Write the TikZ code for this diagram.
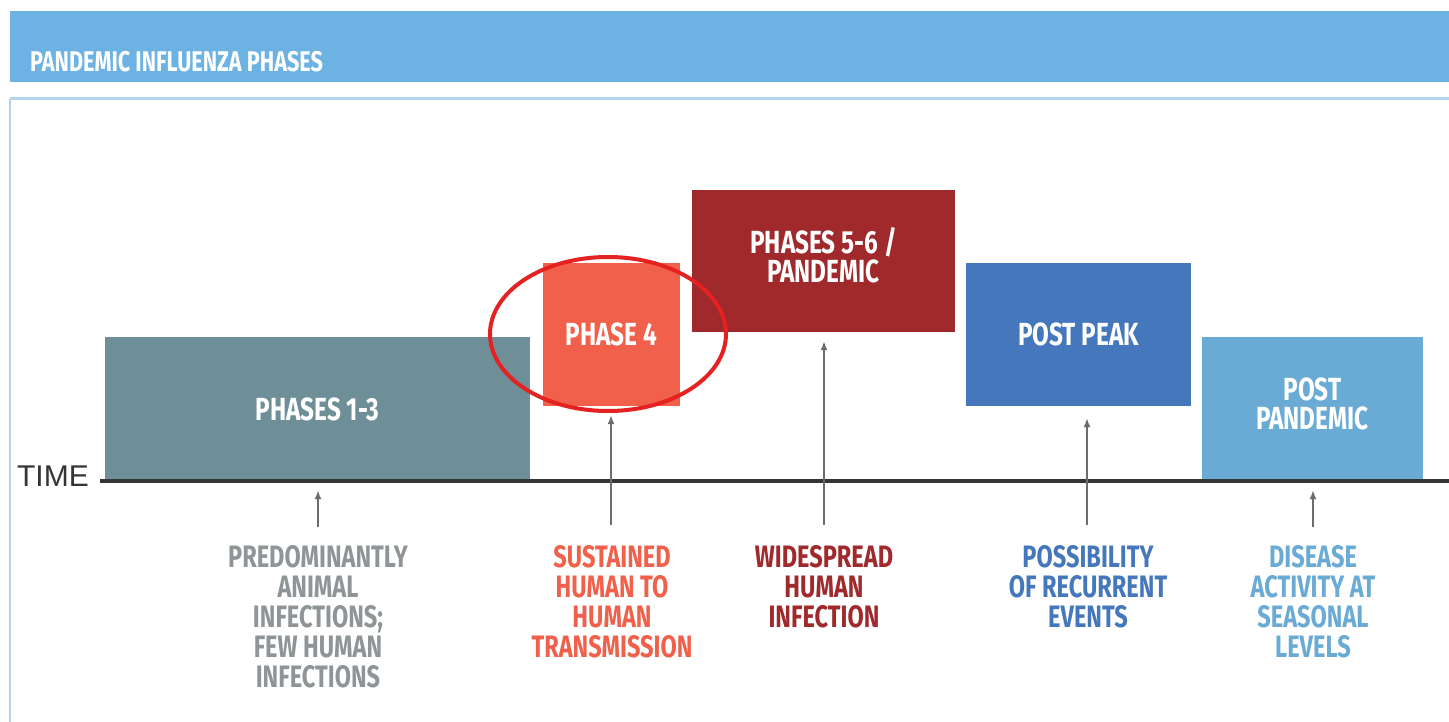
\documentclass[tikz,border=0pt]{standalone}
\usepackage{fontspec}
\setmainfont{Liberation Sans}
\newfontfamily\cond{Fira Sans}[FakeStretch=0.76]
\usetikzlibrary{shapes.geometric,arrows.meta}
\definecolor{titlebar}{HTML}{6CB2E2}
\definecolor{frameline}{HTML}{B3D3EE}
\definecolor{cPhA}{HTML}{6E8F98}
\definecolor{cPhB}{HTML}{F0604A}
\definecolor{cPhC}{HTML}{A0292B}
\definecolor{cPhD}{HTML}{4477BC}
\definecolor{cPhE}{HTML}{6AABD6}
\definecolor{cLabA}{HTML}{8F9497}
\definecolor{timeline}{HTML}{333537}
\definecolor{arrowgray}{HTML}{6A6D70}
\definecolor{ringred}{HTML}{E42222}
\tikzset{
  phasebox/.style={inner sep=0, align=center, text=white,
    font=\cond\bfseries\fontsize{32}{29}\selectfont},
  phaselabel/.style={inner sep=0, align=center, anchor=north,
    font=\cond\bfseries\fontsize{31}{30}\selectfont},
  uparrow/.style={draw=arrowgray, line width=1.6, -{Latex[length=9,width=7]}, shorten >=9},
}
\begin{document}
\begin{tikzpicture}[x=1pt,y=-1pt]
\useasboundingbox (0,0) rectangle (1449,722);
\fill[white] (0,0) rectangle (1449,722);
% title bar
\fill[titlebar] (10,11) rectangle (1449,82);
\node[anchor=base west, inner sep=0, text=white, font=\cond\bfseries\fontsize{28.5}{28}\selectfont] (title) at (30,72) {PANDEMIC INFLUENZA PHASES};
% frame
\draw[frameline, line width=3] (10,99) -- (1449,99);
\draw[frameline, line width=1.5] (10,99) -- (10,722);
% boxes
\node[phasebox, fill=cPhA, minimum width=425, minimum height=144] (b1) at (317.5,409) {PHASES 1-3};
\node[phasebox, fill=cPhB, minimum width=137, minimum height=143] (b2) at (611.5,334.5) {PHASE 4};
\node[phasebox, fill=cPhC, minimum width=263, minimum height=142, text depth=12] (b3) at (823.5,261) {PHASES 5-6 /\\PANDEMIC};
\node[phasebox, fill=cPhD, minimum width=225, minimum height=143] (b4) at (1078.5,334.5) {POST PEAK};
\node[phasebox, fill=cPhE, minimum width=221, minimum height=144, text depth=10] (b5) at (1312.5,409) {POST\\PANDEMIC};
% timeline
\coordinate (t0) at (100,481);
\coordinate (t1) at (1449,481);
\draw[timeline, line width=3.5] (t0) -- (t1);
\node[anchor=base east, inner sep=0, text=timeline, font=\fontsize{30}{30}\selectfont] (time) at (89,486) {TIME};
% highlight ring
\node[draw=ringred, line width=4, ellipse, minimum width=236, minimum height=154, inner sep=0] (ring) at (608,334) {};
% labels
\node[phaselabel, text=cLabA] (l1) at (318,545) {PREDOMINANTLY\\ANIMAL\\INFECTIONS;\\FEW HUMAN\\INFECTIONS};
\node[phaselabel, text=cPhB] (l2) at (612,545) {SUSTAINED\\HUMAN TO\\HUMAN\\TRANSMISSION};
\node[phaselabel, text=cPhC] (l3) at (824,545) {WIDESPREAD\\HUMAN\\INFECTION};
\node[phaselabel, text=cPhD] (l4) at (1088,545) {POSSIBILITY\\OF RECURRENT\\EVENTS};
\node[phaselabel, text=cPhE] (l5) at (1313,545) {DISEASE\\ACTIVITY AT\\SEASONAL\\LEVELS};
% arrows
\coordinate (a1) at (318,527);
\coordinate (a2) at (611,525);
\coordinate (a3) at (824,525);
\coordinate (a4) at (1087,525);
\coordinate (a5) at (1313,527);
\draw[uparrow] (a1) -- (a1 |- b1.south);
\draw[uparrow] (a2) -- (a2 |- b2.south);
\draw[uparrow] (a3) -- (a3 |- b3.south);
\draw[uparrow, shorten >=12] (a4) -- (a4 |- b4.south);
\draw[uparrow] (a5) -- (a5 |- b5.south);
\end{tikzpicture}
\end{document}
